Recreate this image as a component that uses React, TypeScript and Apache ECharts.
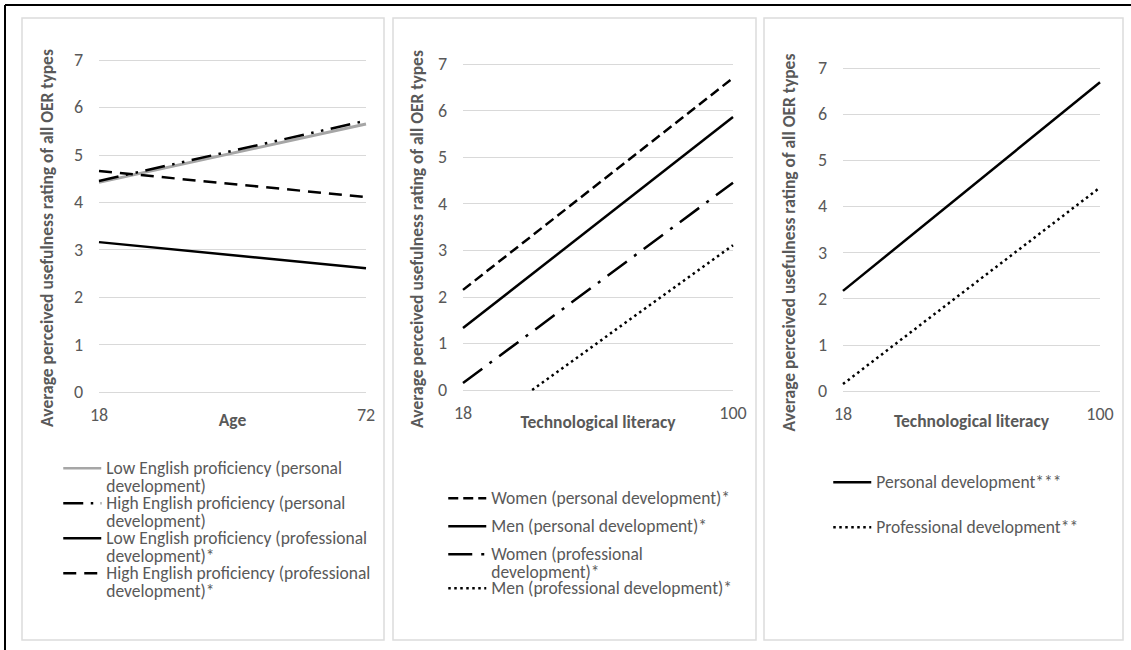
import React, { useEffect, useRef } from 'react';
import * as echarts from 'echarts';

const FONT = 'Carlito, Lato, sans-serif';
const GREY_TEXT = '#595959';
const GRID_COLOR = '#d9d9d9';

// Panel 1: Age
const ageX = [18, 72];
const lowEngPersonal = [4.42, 5.65];
const highEngPersonal = [4.45, 5.72];
const lowEngProfessional = [3.16, 2.61];
const highEngProfessional = [4.66, 4.11];

// Panel 2: Technological literacy by gender
const techX = [18, 100];
const womenPersonal = [2.15, 6.7];
const menPersonal = [1.33, 5.86];
const womenProfessional = [0.15, 4.45];
const menProfessionalX = [39, 100];
const menProfessional = [0, 3.11];

// Panel 3: Technological literacy overall
const personalDev = [2.17, 6.69];
const professionalDev = [0.15, 4.41];

const yMin = 0;
const yMax = 7;
const ageTicks = [18, 72];
const techTicks = [18, 100];

const yTitle = 'Average perceived usefulness rating of all OER types';
const xTitles = ['Age', 'Technological literacy', 'Technological literacy'];

const names = {
  lowPers: 'Low English proficiency (personal\ndevelopment)',
  highPers: 'High English proficiency (personal\ndevelopment)',
  lowProf: 'Low English proficiency (professional\ndevelopment)*',
  highProf: 'High English proficiency (professional\ndevelopment)*',
  wPers: 'Women (personal development)*',
  mPers: 'Men (personal development)*',
  wProf: 'Women (professional\ndevelopment)*',
  mProf: 'Men (professional development)*',
  pers: 'Personal development***',
  prof: 'Professional development**',
};

const pairs = (xs: number[], ys: number[]) => xs.map((x, i) => [x, ys[i]]);

export default function App() {
  const ref = useRef<HTMLDivElement>(null);
  useEffect(() => {
    if (!ref.current) return;
    const chart = echarts.init(ref.current, undefined, { renderer: 'svg' });

    const grids = [
      { left: 99, top: 60, width: 267, height: 332 },
      { left: 463, top: 64, width: 270, height: 326 },
      { left: 843, top: 68, width: 257, height: 323 },
    ];
    const xRanges = [ageX, techX, techX];
    const xTickVals = [ageTicks, techTicks, techTicks];
    const xNameGaps = [19, 23, 21];
    const yNameGaps = [43, 37, 45];
    const yShift = [24, 24, 26];

    const xAxes = grids.map((_, i) => ({
      type: 'value',
      gridIndex: i,
      min: xRanges[i][0],
      max: xRanges[i][1],
      axisLine: { show: false },
      axisTick: { show: false },
      splitLine: { show: false },
      axisLabel: {
        customValues: xTickVals[i],
        fontSize: 18,
        color: GREY_TEXT,
        fontFamily: FONT,
        margin: 14,
      },
      name: xTitles[i],
      nameLocation: 'middle',
      nameGap: xNameGaps[i],
      nameMoveOverlap: false,
      nameTextStyle: { fontSize: 17.5, fontWeight: 'bold', color: GREY_TEXT, fontFamily: FONT },
    }));

    const yAxes = grids.map((_, i) => ({
      type: 'value',
      gridIndex: i,
      min: yMin,
      max: yMax,
      interval: 1,
      axisLine: { show: false },
      axisTick: { show: false },
      splitLine: { show: true, lineStyle: { color: GRID_COLOR, width: 1 } },
      axisLabel: { fontSize: 18, color: GREY_TEXT, fontFamily: FONT, margin: 16 },
      name: yTitle,
      nameLocation: 'middle',
      nameGap: yNameGaps[i],
      nameRotate: 90,
      nameMoveOverlap: false,
      nameTextStyle: {
        fontSize: 17.5,
        fontWeight: 'bold',
        color: GREY_TEXT,
        fontFamily: FONT,
        padding: [0, yShift[i], 0, 0],
      },
    }));

    const line = (
      name: string,
      idx: number,
      data: number[][],
      color: string,
      type: any,
      width = 2.5,
      z = 2
    ) => ({
      type: 'line',
      name,
      xAxisIndex: idx,
      yAxisIndex: idx,
      data,
      symbol: 'none',
      showSymbol: false,
      z,
      itemStyle: { color },
      lineStyle: { color, width, type, cap: 'butt' },
    });

    const series = [
      line(names.lowPers, 0, pairs(ageX, lowEngPersonal), '#a6a6a6', 'solid', 3, 1),
      line(names.highPers, 0, pairs(ageX, highEngPersonal), '#000000', [20, 7.5, 2.5, 7.5, 2.5, 7.5], 2.5, 3),
      line(names.lowProf, 0, pairs(ageX, lowEngProfessional), '#000000', 'solid'),
      line(names.highProf, 0, pairs(ageX, highEngProfessional), '#000000', [13, 8]),
      line(names.wPers, 1, pairs(techX, womenPersonal), '#000000', [10, 5]),
      line(names.mPers, 1, pairs(techX, menPersonal), '#000000', 'solid'),
      line(names.wProf, 1, pairs(techX, womenProfessional), '#000000', [24, 9, 3, 9]),
      line(names.mProf, 1, pairs(menProfessionalX, menProfessional), '#000000', [2.5, 3.5]),
      line(names.pers, 2, pairs(techX, personalDev), '#000000', 'solid'),
      line(names.prof, 2, pairs(techX, professionalDev), '#000000', [2.5, 3.5]),
    ];

    const LH = 17.5;
    const leg = (name: string, left: number, firstLineY: number) => {
      const twoLine = name.indexOf('\n') >= 0;
      return {
        show: true,
        orient: 'vertical',
        left,
        top: firstLineY - LH / 2 - (twoLine ? LH : 0),
        padding: 0,
        itemWidth: 38,
        itemHeight: 15,
        selectedMode: false,
        data: [name],
        // an empty leading line keeps the symbol level with the first text line
        formatter: (n: string) => (n.indexOf('\n') >= 0 ? '\n' + n : n),
        textStyle: {
          color: GREY_TEXT,
          fontSize: 17.5,
          fontFamily: FONT,
          lineHeight: LH,
        },
        itemStyle: { opacity: 0, borderWidth: 0 },
        lineStyle: { width: 2.5 },
      };
    };

    const legends = [
      leg(names.lowPers, 62, 468),
      leg(names.highPers, 62, 503),
      leg(names.lowProf, 62, 538),
      leg(names.highProf, 62, 573),
      leg(names.wPers, 447, 498),
      leg(names.mPers, 447, 526),
      leg(names.wProf, 447, 554),
      leg(names.mProf, 447, 588),
      leg(names.pers, 832, 482),
      leg(names.prof, 832, 527),
    ];

    const panelRect = (x1: number, x2: number) => ({
      type: 'rect',
      shape: { x: x1, y: 18, width: x2 - x1, height: 622 },
      style: { fill: 'none', stroke: '#dcdcdc', lineWidth: 1.5 },
      z: -1,
      silent: true,
    });

    chart.setOption({
      animation: false,
      backgroundColor: '#ffffff',
      textStyle: { fontFamily: FONT },
      grid: grids,
      xAxis: xAxes,
      yAxis: yAxes,
      legend: legends,
      series,
      graphic: [
        panelRect(22, 384),
        panelRect(393, 756),
        panelRect(764, 1123),
        { type: 'line', shape: { x1: 5, y1: 5, x2: 1131, y2: 5 }, style: { stroke: '#000', lineWidth: 2 }, silent: true },
        { type: 'line', shape: { x1: 5, y1: 5, x2: 5, y2: 650 }, style: { stroke: '#000', lineWidth: 2 }, silent: true },
      ],
    });
    return () => chart.dispose();
  }, []);

  return (
    <div
      ref={ref}
      style={{ position: 'absolute', left: 0, top: 0, width: 1131, height: 650, background: '#fff' }}
    />
  );
}
